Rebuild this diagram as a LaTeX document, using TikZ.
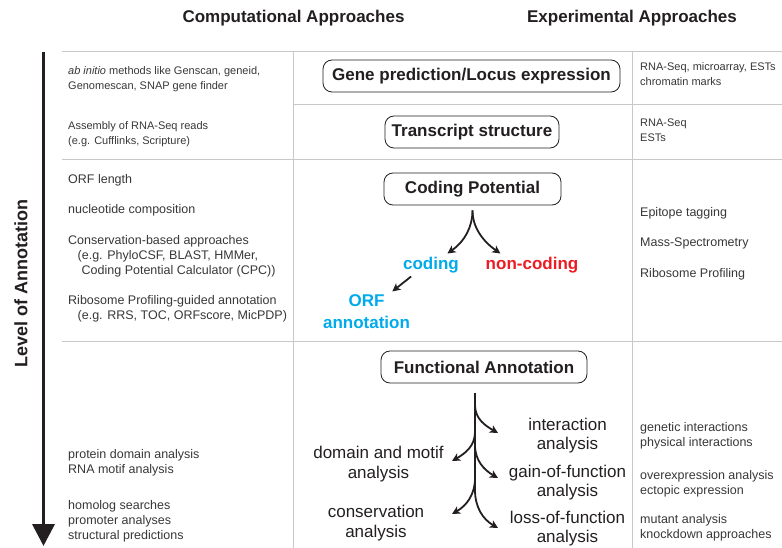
\documentclass[tikz,border=0pt]{standalone}
\usepackage{fontspec}
\setmainfont{Liberation Sans}
\usetikzlibrary{arrows.meta,positioning}
\definecolor{tableline}{RGB}{200,200,200}
\definecolor{txt}{RGB}{55,55,55}
\definecolor{ink}{RGB}{35,31,32}
\definecolor{cblue}{RGB}{0,170,235}
\definecolor{cred}{RGB}{237,28,36}
\begin{document}
\begin{tikzpicture}[x=1pt,y=-1pt,
  sep/.style={draw=tableline,line width=0.9pt},
  stage/.style={draw=ink,rounded corners=9pt,line width=0.8pt,minimum height=32pt,inner xsep=0pt,font=\fontsize{17}{20}\selectfont\bfseries,text=ink},
  head/.style={anchor=base,inner sep=0pt,font=\fontsize{17}{20}\selectfont\bfseries,text=ink},
  small/.style={anchor=base west,align=left,inner sep=0pt,font=\fontsize{11}{14.5}\selectfont,text=txt},
  note/.style={anchor=base west,align=left,inner sep=0pt,font=\fontsize{12.5}{15}\selectfont,text=txt},
  result/.style={align=center,font=\fontsize{17}{22}\selectfont\bfseries},
  assay/.style={align=center,font=\fontsize{17}{19.5}\selectfont,text=ink},
  branch/.style={draw=ink,line width=1.8pt,-{Stealth[length=8pt,width=8pt,inset=2pt]}},
  stem/.style={draw=ink,line width=1.8pt}]

\useasboundingbox (0,0) rectangle (782,548);

\draw[sep] (62,51) -- (782,51);
\draw[sep] (293,104) -- (782,104);
\draw[sep] (62,159) -- (782,159);
\draw[sep] (62,341) -- (782,341);
\draw[sep] (293,51) -- (293,548);
\draw[sep] (632,51) -- (632,548);

\node[head] (comp) at (293.5,23) {Computational Approaches};
\node[head] (expt) at (632,23) {Experimental Approaches};

\node[rotate=90,inner sep=0pt,font=\fontsize{18}{20}\selectfont\bfseries,text=ink] (level) at (21,283.5) {Level of Annotation};
\coordinate (ltop) at (43.5,52);
\coordinate (lbot) at (43.5,546);
\draw[ink,line width=3.6pt,-{Triangle[width=22pt,length=22pt]}] (ltop) -- (lbot);

\node[stage,minimum width=297pt] (gene) at (471.5,76) {Gene prediction/Locus expression};
\node[stage,minimum width=174pt] (trans) at (472,132) {Transcript structure};
\node[stage,minimum width=177pt] (cp) at (472.5,189) {Coding Potential};
\node[stage,minimum width=206pt] (fa) at (484,367) {Functional Annotation};

\node[small] (c1) at (68,89.5) {\textit{ab initio} methods like Genscan, geneid,\\Genomescan, SNAP gene finder};
\node[small] (c2) at (68,144.5) {Assembly of RNA-Seq reads\\(e.g. Cufflinks, Scripture)};
\node[note] (c3) at (68,184) {ORF length};
\node[note] (c4) at (68,214) {nucleotide composition};
\node[note] (c5) at (68,274) {Conservation-based approaches\\\hspace*{9.5pt}(e.g. PhyloCSF, BLAST, HMMer,\\\hspace*{13.5pt}Coding Potential Calculator (CPC))};
\node[note] (c6) at (68,319) {Ribosome Profiling-guided annotation\\\hspace*{9.5pt}(e.g. RRS, TOC, ORFscore, MicPDP)};
\node[note] (c7) at (68,473) {protein domain analysis\\RNA motif analysis};
\node[note] (c8) at (68,539) {homolog searches\\promoter analyses\\structural predictions};

\node[small] (e1) at (640,85.5) {RNA-Seq, microarray, ESTs\\chromatin marks};
\node[small] (e2) at (640,141.5) {RNA-Seq\\ESTs};
\node[note] (e3) at (640,217) {Epitope tagging};
\node[note] (e4) at (640,247) {Mass-Spectrometry};
\node[note] (e5) at (640,277) {Ribosome Profiling};
\node[note] (e6) at (640,446) {genetic interactions\\physical interactions};
\node[note] (e7) at (640,494) {overexpression analysis\\ectopic expression};
\node[note] (e8) at (640,538) {mutant analysis\\knockdown approaches};

\node[result,text=cblue] (coding) at (431,265) {coding};
\node[result,text=cred] (noncoding) at (532,265) {non-coding};
\node[result,text=cblue] (orf) at (366.5,312) {ORF\\annotation};

\path (cp.south) edge[branch,out=-90,in=35,shorten <=5pt] (coding.35);
\path (cp.south) edge[branch,out=-90,in=145,shorten <=5pt] (noncoding.160);
\path (coding.210) edge[branch] (orf);

\node[assay] (inter) at (567.5,435.5) {interaction\\analysis};
\node[assay] (gain) at (567.5,482.5) {gain-of-function\\analysis};
\node[assay] (loss) at (567.5,528.5) {loss-of-function\\analysis};
\node[assay] (motif) at (378.5,464) {domain and motif\\analysis};
\node[assay] (consv) at (376,523) {conservation\\analysis};

\coordinate (s0) at (475,393);
\coordinate (s1) at (475,405);
\coordinate (s2) at (475,432);
\coordinate (s3) at (475,445);
\coordinate (s4) at (475,478);
\coordinate (s5) at (475,490);
\coordinate (t1) at (498,433);
\coordinate (t2) at (452,461);
\coordinate (t3) at (498,478);
\coordinate (t4) at (452,514);
\coordinate (t5) at (498,528);

\draw[stem] (s0) -- (s5);
\draw[branch] (s1) to[out=-90,in=150] (t1);
\draw[branch] (s2) to[out=-90,in=30] (t2);
\draw[branch] (s3) to[out=-90,in=150] (t3);
\draw[branch] (s4) to[out=-90,in=30] (t4);
\draw[branch] (s5) to[out=-90,in=150] (t5);
\end{tikzpicture}
\end{document}
